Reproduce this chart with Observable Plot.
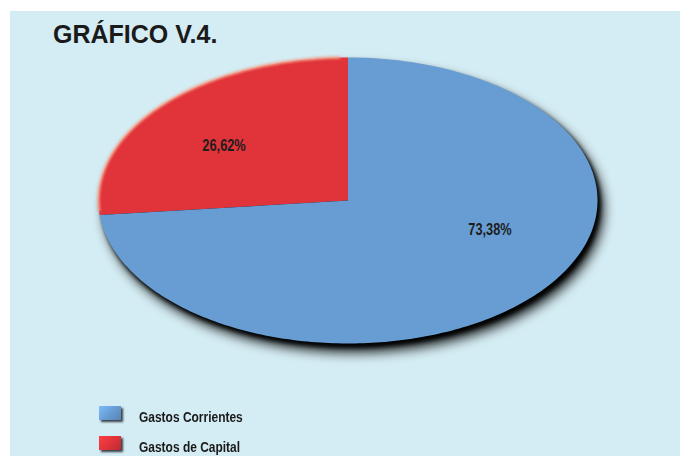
<!DOCTYPE html>
<html>
<head>
<meta charset="utf-8">
<script src="https://cdn.jsdelivr.net/npm/d3@7"></script>
<script src="https://cdn.jsdelivr.net/npm/@observablehq/plot@0.6"></script>
<style>
  html, body { margin: 0; padding: 0; background: #ffffff; }
  body { width: 680px; height: 456px; position: relative; overflow: hidden; }
  #panel { position: absolute; left: 10px; top: 11px; width: 670px; height: 445px; background: #d4ecf3; overflow: hidden; }
  #title { position: absolute; left: 43px; top: 11px; font: bold 25px/25px "Liberation Sans", Arial, sans-serif; color: #1a1a1a; white-space: nowrap; }
  #chart { position: absolute; left: 0; top: 39px; }
  .lg-sw { position: absolute; left: 89px; width: 22px; height: 14px; box-shadow: 2px 2px 2px rgba(20,20,30,0.8); }
  .lg-tx { position: absolute; left: 129px; font: bold 14.6px/15px "Liberation Sans", Arial, sans-serif; color: #1a1a1a; white-space: nowrap; transform: scaleX(0.82); transform-origin: 0 0; }
</style>
</head>
<body>
<div id="panel">
  <div id="title"></div>
  <div id="chart"></div>
  <div id="legend"></div>
</div>
<script>
// ---- data ----
const categories = ["Gastos Corrientes", "Gastos de Capital"];
const values = [73.38, 26.62];
const labels = ["73,38%", "26,62%"];
const colors = ["#689dd4", "#e1333a"];
const rimColors = ["#86b3e0", "#f5a08a"];
const titleText = "GRÁFICO V.4.";

// ---- geometry (unit circle, stretched to an ellipse by the x/y scales) ----
const total = d3.sum(values);
const order = [1, 0]; // drawn counter-clockwise from 12 o'clock
const slices = [];
let start = 0;
for (const i of order) {
  const sweep = values[i] / total * 360;
  slices.push({i, a0: start, a1: start - sweep});
  start -= sweep;
}
const pt = deg => ({x: Math.sin(deg * Math.PI / 180), y: Math.cos(deg * Math.PI / 180)});
function arc(a0, a1) {
  const n = Math.max(2, Math.ceil(Math.abs(a1 - a0)));
  return d3.range(n + 1).map(k => pt(a0 + (a1 - a0) * k / n));
}
const fullEllipse = arc(0, 360);

const marks = [];
// shadows
marks.push(Plot.line(fullEllipse, {x: "x", y: "y", fill: "#000", stroke: "none", curve: "linear-closed", dx: 6, dy: 9, fillOpacity: 0.85}));
marks.push(Plot.line(fullEllipse, {x: "x", y: "y", fill: "#000", stroke: "none", curve: "linear-closed", dx: 3, dy: 4}));
// slices
for (const s of slices) {
  const pts = [{x: 0, y: 0}, ...arc(s.a0, s.a1)];
  marks.push(Plot.line(pts, {x: "x", y: "y", fill: colors[s.i], stroke: "none", curve: "linear-closed"}));
}
// rim highlight on the red slice
for (const s of slices) {
  if (s.i !== 1) continue;
  marks.push(Plot.line(arc(s.a0 - 2, s.a1 + 2), {x: "x", y: "y", stroke: rimColors[s.i], strokeWidth: 2.5}));
}
// labels at mid angle
const labelData = slices.map(s => {
  const p = pt((s.a0 + s.a1) / 2);
  return {x: p.x * 0.61, y: p.y * 0.61, label: labels[s.i], i: s.i};
});
const nudges = {0: [29, -29], 1: [-11, 4]};
for (const d of labelData) {
  marks.push(Plot.text([d], {
    x: "x", y: "y", text: "label",
    dx: nudges[d.i][0], dy: nudges[d.i][1],
    fontSize: 16, fontWeight: "bold", fill: "#1e1e1e",
    fontFamily: '"Liberation Sans", Arial, sans-serif'
  }));
}

const svg = Plot.plot({
  width: 670,
  height: 330,
  marginLeft: 88,
  marginRight: 83,
  marginTop: 7,
  marginBottom: 37,
  x: {domain: [-1, 1], axis: null},
  y: {domain: [-1, 1], axis: null},
  style: {background: "transparent", overflow: "visible"},
  marks
});
const lineGroups = d3.select(svg).selectAll('g[aria-label="line"]').nodes();
d3.select(lineGroups[0]).style("filter", "blur(6px)");
d3.select(lineGroups[1]).style("filter", "blur(2px)");
d3.select(lineGroups[4]).style("filter", "blur(0.8px)");
// condensed look for the percentage labels
d3.select(svg).selectAll('g[aria-label="text"] text').each(function() {
  const t = d3.select(this);
  t.attr("transform", (t.attr("transform") || "") + " scale(0.8,1)");
});
document.getElementById("chart").appendChild(svg);

// legend
const legend = document.getElementById("legend");
const swTops = [395, 425];
const txTops = [399, 429];
categories.forEach((c, i) => {
  const sw = document.createElement("div");
  sw.className = "lg-sw";
  sw.style.top = swTops[i] + "px";
  sw.style.background = `linear-gradient(135deg, ${d3.color(colors[i]).brighter(0.5)}, ${colors[i]} 50%, ${d3.color(colors[i]).darker(0.5)})`;
  legend.appendChild(sw);
  const tx = document.createElement("div");
  tx.className = "lg-tx";
  tx.style.top = txTops[i] + "px";
  tx.textContent = c;
  legend.appendChild(tx);
});
document.getElementById("title").textContent = titleText;
</script>
</body>
</html>
